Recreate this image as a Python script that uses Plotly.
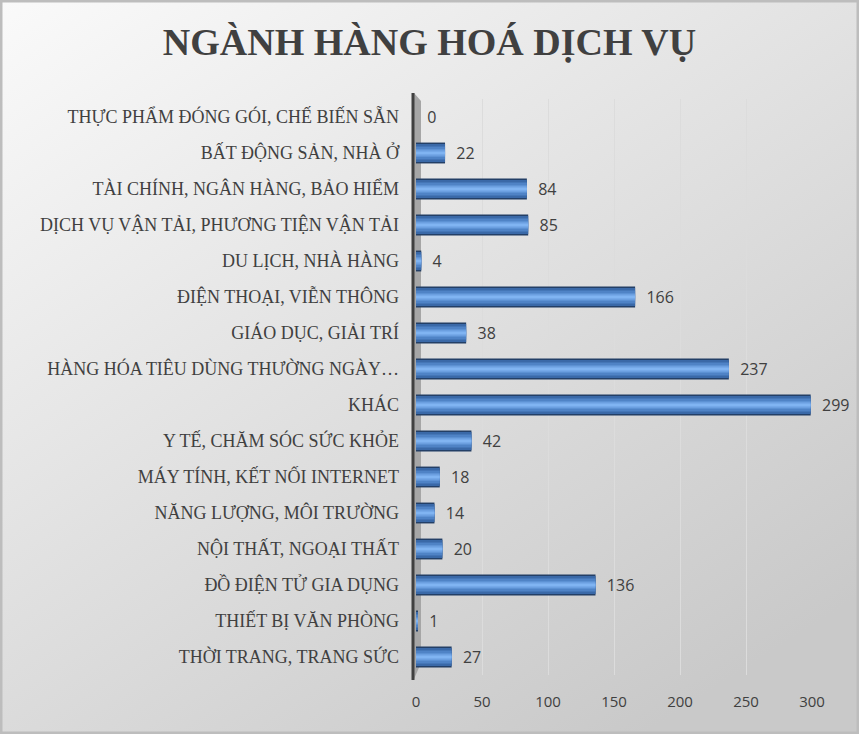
import base64
import plotly.graph_objects as go

categories = [
    "THỰC PHẨM ĐÓNG GÓI, CHẾ BIẾN SẴN",
    "BẤT ĐỘNG SẢN, NHÀ Ở",
    "TÀI CHÍNH, NGÂN HÀNG, BẢO HIỂM",
    "DỊCH VỤ VẬN TẢI, PHƯƠNG TIỆN VẬN TẢI",
    "DU LỊCH, NHÀ HÀNG",
    "ĐIỆN THOẠI, VIỄN THÔNG",
    "GIÁO DỤC, GIẢI TRÍ",
    "HÀNG HÓA TIÊU DÙNG THƯỜNG NGÀY…",
    "KHÁC",
    "Y TẾ, CHĂM SÓC SỨC KHỎE",
    "MÁY TÍNH, KẾT NỐI INTERNET",
    "NĂNG LƯỢNG, MÔI TRƯỜNG",
    "NỘI THẤT, NGOẠI THẤT",
    "ĐỒ ĐIỆN TỬ GIA DỤNG",
    "THIẾT BỊ VĂN PHÒNG",
    "THỜI TRANG, TRANG SỨC",
]
values = [0, 22, 84, 85, 4, 166, 38, 237, 299, 42, 18, 14, 20, 136, 1, 27]
x_ticks = [0, 50, 100, 150, 200, 250, 300]

W, H = 859, 734
ML, MR, MT, MB = 416, 47, 99, 59
PW, PH = W - ML - MR, H - MT - MB

fig = go.Figure()

# cylinder-like shading: layered bars of decreasing thickness
layers = [
    ("#233f66", 0.58),
    ("#3a69a8", 0.50),
    ("#4f83c6", 0.36),
    ("#6b9fe0", 0.20),
    ("#80b4f2", 0.08),
]
for i, (col, w) in enumerate(layers):
    fig.add_trace(go.Bar(
        y=categories, x=values, orientation="h", width=w,
        marker=dict(color=col, line=dict(width=0)),
        text=values if i == 0 else None,
        texttemplate="  %{x}" if i == 0 else None,
        textposition="outside" if i == 0 else "none",
        textfont=dict(family="Open Sans", size=16, color="#404040"),
        constraintext="none", cliponaxis=False,
        hoverinfo="skip" if i else None, showlegend=False,
    ))

# background gradient via svg image
svg = f'''<svg xmlns="http://www.w3.org/2000/svg" width="{W}" height="{H}">
<defs><linearGradient id="g" x1="0" y1="0" x2="0.75" y2="1">
<stop offset="0" stop-color="#fafafa"/><stop offset="1" stop-color="#c9c9c9"/>
</linearGradient></defs>
<rect width="{W}" height="{H}" fill="url(#g)"/>
<rect x="1" y="1" width="{W-2}" height="{H-2}" fill="none" stroke="#bdbdbd" stroke-width="3"/>
</svg>'''
src = "data:image/svg+xml;base64," + base64.b64encode(svg.encode()).decode()
fig.add_layout_image(dict(
    source=src, xref="paper", yref="paper",
    x=-ML / PW, y=1 + MT / PH, sizex=W / PW, sizey=H / PH,
    xanchor="left", yanchor="top", sizing="stretch", layer="below",
))

# back wall
fig.add_shape(type="path", xref="paper", yref="paper", layer="below",
              path=f"M {-2/PW} {1+6/PH} L {5/PW} {1-2/PH} L {5/PW} {12/PH} L {-2/PW} {-4/PH} Z",
              fillcolor="#a6a6a6", line=dict(width=0))
fig.add_shape(type="line", xref="paper", yref="paper", layer="above",
              x0=-3/PW, x1=-3/PW, y0=1+6/PH, y1=-5/PH,
              line=dict(color="#404040", width=3))

fig.update_layout(
    width=W, height=H,
    margin=dict(l=ML, r=MR, t=MT, b=MB),
    barmode="overlay",
    paper_bgcolor="#e6e6e6",
    plot_bgcolor="rgba(0,0,0,0)",
    title=dict(text="<b>NGÀNH HÀNG HOÁ DỊCH VỤ</b>", x=0.5, xanchor="center",
               y=1 - 42 / H, yanchor="middle", yref="container",
               font=dict(family="Liberation Serif", size=38, color="#404040")),
    xaxis=dict(range=[0, 300], tickvals=x_ticks, showgrid=True,
               gridcolor="#dcdcdc", gridwidth=1, zeroline=False,
               showline=False, ticks="", ticklabelstandoff=16,
               tickfont=dict(family="Open Sans", size=15, color="#404040")),
    yaxis=dict(autorange="reversed", showgrid=False, zeroline=False,
               showline=False, ticks="", ticklabelstandoff=16,
               tickfont=dict(family="Liberation Serif", size=18, color="#404040")),
)

fig.write_html("out.html", config={"displayModeBar": False},
               post_script="document.body.style.margin='0';document.body.style.overflow='hidden';")
